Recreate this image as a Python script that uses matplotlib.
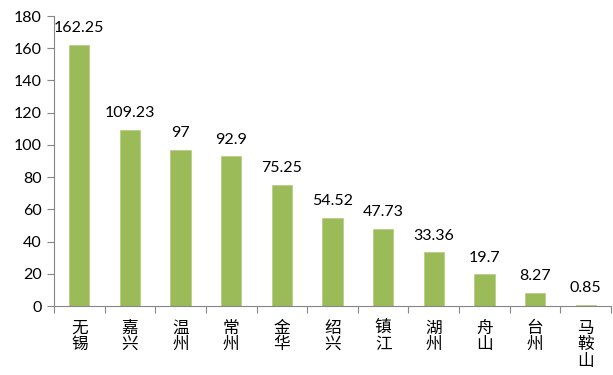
import numpy as np
import matplotlib
matplotlib.use('Agg')
import matplotlib.pyplot as plt

cities = ['无锡', '嘉兴', '温州', '常州', '金华', '绍兴', '镇江', '湖州', '舟山', '台州', '马鞍山']
values = [162.25, 109.23, 97, 92.9, 75.25, 54.52, 47.73, 33.36, 19.7, 8.27, 0.85]
value_labels = ['162.25', '109.23', '97', '92.9', '75.25', '54.52', '47.73', '33.36', '19.7', '8.27', '0.85']
yticks = [0, 20, 40, 60, 80, 100, 120, 140, 160, 180]

plt.rcParams['font.family'] = ['Lato', 'Noto Sans CJK SC', 'DejaVu Sans']

fig = plt.figure(figsize=(6.13, 3.75), dpi=100)
ax = fig.add_axes([54 / 613, 1 - 306 / 375, 557 / 613, 290 / 375])

x = np.arange(len(cities))
ax.bar(x, values, width=0.4, color='#9BBB59', edgecolor='#B5CC82', linewidth=0.5)

for xi, v, lab in zip(x, values, value_labels):
    ax.annotate(lab, (xi, v), xytext=(0, 7), textcoords='offset points',
                ha='center', va='bottom', fontsize=11.5, color='black')

ax.set_xlim(-0.5, len(cities) - 0.5)
ax.set_ylim(0, 180)
ax.set_yticks(yticks)
ax.set_yticklabels([str(t) for t in yticks], fontsize=11.5)

# category boundary ticks, labels stacked vertically
ax.set_xticks(np.arange(len(cities) + 1) - 0.5)
ax.set_xticklabels([])
ax.set_xticks(x, minor=True)
ax.set_xticklabels(['\n'.join(c) for c in cities], minor=True,
                   family=['Noto Sans CJK SC', 'DejaVu Sans'], fontsize=12,
                   linespacing=0.95, va='top')
ax.tick_params(axis='x', which='minor', length=0, pad=10)
ax.tick_params(axis='x', which='major', length=5, color='#868686', direction='out')
ax.tick_params(axis='y', length=5, color='#868686', direction='out', pad=4)

for s in ['top', 'right']:
    ax.spines[s].set_visible(False)
for s in ['left', 'bottom']:
    ax.spines[s].set_color('#868686')

fig.savefig('out.png', dpi=100)
